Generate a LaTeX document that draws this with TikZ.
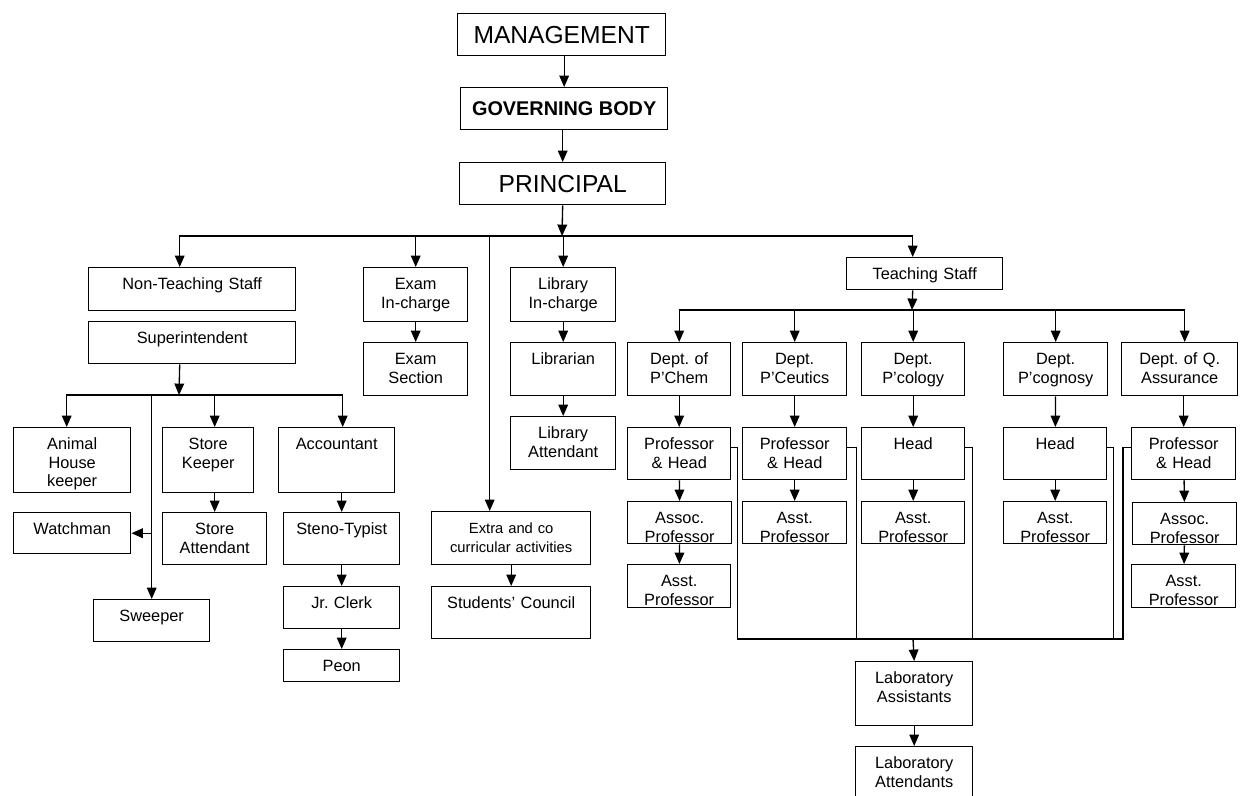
\documentclass[tikz,border=0pt]{standalone}
\usepackage{fontspec}
\setmainfont{Liberation Sans}
\usetikzlibrary{arrows.meta}
\frenchspacing
\tikzstyle{arrow} = [line width=0.75pt,-{Triangle[length=6.5pt,width=5.5pt]}]
\tikzstyle{link} = [line width=0.75pt]
\tikzstyle{topbox} = [rectangle, draw, line width=0.8pt, anchor=north west, inner sep=0pt]
\tikzset{orgbox/.style 2 args={rectangle, draw, line width=0.8pt, anchor=north west, inner sep=0pt, align=center, text width=#1*0.02cm, minimum width=#1*0.02cm, text height=0.44cm, text depth=#2*0.02cm-0.44cm, font=\fontsize{9.3}{10.6}\selectfont}}

\begin{document}
\begin{tikzpicture}[x=0.02cm,y=-0.02cm]
\useasboundingbox (0,0) rectangle (1241,795);
%
\node (mgmt) [topbox, minimum width=4.16cm, minimum height=0.84cm, font=\fontsize{14}{16}\selectfont] at (457,13) {MANAGEMENT};
\node (gov) [topbox, minimum width=4.14cm, minimum height=0.84cm, font=\fontsize{11.3}{13}\selectfont\bfseries] at (460,87) {GOVERNING BODY};
\node (prin) [topbox, minimum width=4.12cm, minimum height=0.84cm, font=\fontsize{14}{16}\selectfont] at (459,162) {PRINCIPAL};
%
\node (nts) [orgbox={207}{43}] at (88,267) {Non-Teaching Staff};
\node (supt) [orgbox={207}{42}] at (88,321) {Superintendent};
\node (animal) [orgbox={117}{65}] at (13,427) {Animal\\House\\keeper};
\node (storek) [orgbox={91}{65}] at (162,427) {Store\\Keeper};
\node (acct) [orgbox={116}{65}] at (278,427) {Accountant};
\node (watch) [orgbox={117}{41}] at (13,512) {Watchman};
\node (storea) [orgbox={104}{52}] at (162,512) {Store\\Attendant};
\node (steno) [orgbox={116}{52}] at (283,512) {Steno-Typist};
\node (jrclerk) [orgbox={116}{42}] at (283,586) {Jr. Clerk};
\node (peon) [orgbox={116}{32}] at (283,649) {Peon};
\node (sweeper) [orgbox={116}{42}] at (93,599) {Sweeper};
%
\node (examic) [orgbox={104}{54}] at (363,267) {Exam\\In-charge};
\node (examsec) [orgbox={104}{53}] at (363,342) {Exam\\Section};
\node (libic) [orgbox={105}{54}] at (510,267) {Library\\In-charge};
\node (libr) [orgbox={105}{53}] at (510,342) {Librarian};
\node (libatt) [orgbox={105}{53}] at (510,416) {Library\\Attendant};
\node (extra) [orgbox={159}{53}, font=\fontsize{8.4}{10.6}\selectfont] at (431,511) {Extra and co\\curricular activities};
\node (council) [orgbox={159}{52}] at (431,586) {Students' Council};
%
\node (ts) [orgbox={156}{32}] at (846,257) {Teaching Staff};
\node (dchem) [orgbox={103}{53}] at (627,342) {Dept. of\\P'Chem};
\node (dceu) [orgbox={104}{53}] at (742,342) {Dept.\\P'Ceutics};
\node (dcol) [orgbox={103}{53}] at (861,342) {Dept.\\P'cology};
\node (dcog) [orgbox={104}{53}] at (1003,342) {Dept.\\P'cognosy};
\node (dqa) [orgbox={116}{53}] at (1121,342) {Dept. of Q.\\Assurance};
\node (phchem) [orgbox={103}{52}] at (627,427) {Professor\\\& Head};
\node (phceu) [orgbox={104}{52}] at (742,427) {Professor\\\& Head};
\node (hcol) [orgbox={103}{52}] at (861,427) {Head};
\node (hcog) [orgbox={103}{52}] at (1003,427) {Head};
\node (phqa) [orgbox={104}{52}] at (1131,427) {Professor\\\& Head};
\node (assocchem) [orgbox={104}{42}] at (627,501) {Assoc.\\Professor};
\node (asstceu) [orgbox={104}{42}] at (742,501) {Asst.\\Professor};
\node (asstcol) [orgbox={103}{42}] at (861,501) {Asst.\\Professor};
\node (asstcog) [orgbox={103}{42}] at (1003,501) {Asst.\\Professor};
\node (assocqa) [orgbox={104}{42}] at (1132,502) {Assoc.\\Professor};
\node (asstchem) [orgbox={103}{43}] at (627,564) {Asst.\\Professor};
\node (asstqa) [orgbox={104}{43}] at (1131,564) {Asst.\\Professor};
\node (labass) [orgbox={117}{64}] at (855,661) {Laboratory\\Assistants};
\node (labatt) [orgbox={117}{54}] at (855,746) {Laboratory\\Attendants};
%
\coordinate (bus) at (562,236);
\coordinate (sbus) at (179,395);
\coordinate (tbus) at (912,310);
\coordinate (lbus) at (913,639);
%
\draw [arrow] (gov.north |- mgmt.south) -- (gov.north);
\draw [arrow] (prin.north |- gov.south) -- (prin.north);
\draw [arrow] (prin.south) -- (bus);
\draw [arrow] (bus) -| ([xshift=-0.25cm]nts.north);
\draw [arrow] (bus) -| (examic.north);
\draw [arrow] (bus) -| ([xshift=-0.43cm]extra.north);
\draw [arrow] (bus) -| (libic.north);
\draw [arrow] (bus) -| ([xshift=-0.24cm]ts.north);
%
\draw [arrow] ([xshift=-0.25cm]supt.south) -- (sbus);
\draw [arrow] (sbus) -| ([xshift=-0.11cm]animal.north);
\draw [arrow] (sbus) -| ([xshift=0.13cm]storek.north);
\draw [arrow] (sbus) -| ([xshift=0.12cm]acct.north);
\draw [arrow] (sbus) -| (sweeper.north);
\draw [arrow] (sweeper.north |- watch.east) -- (watch.east);
\draw [arrow] (storea.north |- storek.south) -- (storea.north);
\draw [arrow] (steno.north |- acct.south) -- (steno.north);
\draw [arrow] (steno) -- (jrclerk);
\draw [arrow] (jrclerk) -- (peon);
%
\draw [arrow] (examic) -- (examsec);
\draw [arrow] (libic) -- (libr);
\draw [arrow] (libr) -- (libatt);
\draw [arrow] (extra) -- (council);
%
\draw [arrow] ([xshift=-0.24cm]ts.south) -- (tbus);
\draw [arrow] (tbus) -| (dchem.north);
\draw [arrow] (tbus) -| (dceu.north);
\draw [arrow] (tbus) -| (dcol.north);
\draw [arrow] (tbus) -| (dcog.north);
\draw [arrow] (tbus) -| ([xshift=0.1cm]dqa.north);
\draw [arrow] (dchem) -- (phchem);
\draw [arrow] (phchem) -- (assocchem);
\draw [arrow] (assocchem) -- (asstchem);
\draw [arrow] (dceu) -- (phceu);
\draw [arrow] (phceu) -- (asstceu);
\draw [arrow] (dcol) -- (hcol);
\draw [arrow] (hcol) -- (asstcol);
\draw [arrow] (dcog) -- (hcog);
\draw [arrow] (hcog) -- (asstcog);
\draw [arrow] (phqa.north |- dqa.south) -- (phqa.north);
\draw [arrow] (phqa) -- (assocqa);
\draw [arrow] (assocqa) -- (asstqa);
%
\draw [link] ([yshift=0.12cm]phchem.east) -- ++(6,0) |- (lbus);
\draw [link] ([yshift=0.12cm]phceu.east) -- ++(9,0) |- (lbus);
\draw [link] ([yshift=0.12cm]hcol.east) -- ++(7,0) |- (lbus);
\draw [link] ([yshift=0.12cm]hcog.east) -- ++(6,0) |- (lbus);
\draw [link] ([yshift=0.12cm]phqa.west) -- ++(-8,0) |- (lbus);
\draw [arrow] (lbus) -- (labass.north);
\draw [arrow] (labass) -- (labatt);
%
\end{tikzpicture}
\end{document}
